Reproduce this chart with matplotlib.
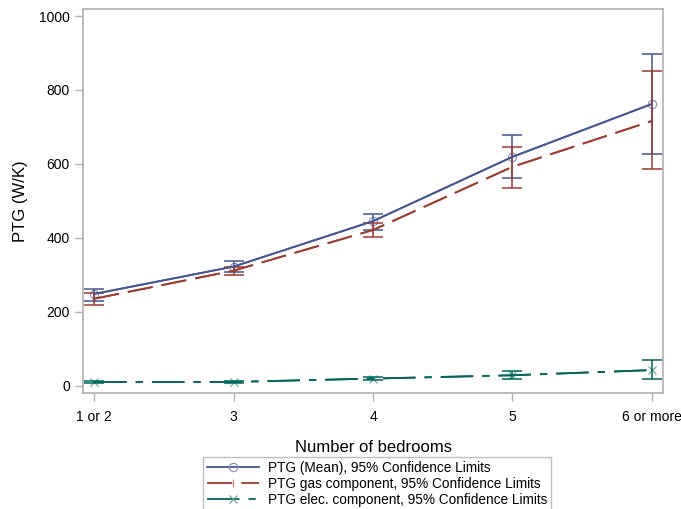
import matplotlib.pyplot as plt

categories = ['1 or 2', '3', '4', '5', '6 or more']

mean_ptg = [248, 322, 445, 619, 762]
mean_lo = [229, 308, 421, 562, 626]
mean_hi = [261, 337, 464, 678, 897]

gas_ptg = [235, 311, 421, 592, 716]
gas_lo = [217, 299, 402, 536, 585]
gas_hi = [251, 320, 439, 646, 851]

elec_ptg = [10, 10, 19, 28, 42]
elec_lo = [8, 8, 15, 19, 17]
elec_hi = [12, 12, 23, 40, 69]


def main():
    plt.rcParams['font.family'] = ['Liberation Sans', 'DejaVu Sans']

    fig = plt.figure(figsize=(6.81, 5.09), dpi=100)
    ax = fig.add_axes([0.1219, 0.2279, 0.8517, 0.7544])

    x = list(range(len(categories)))
    series = [
        ('PTG (Mean), 95% Confidence Limits', mean_ptg, mean_lo, mean_hi,
         '#445694', '#7f8bc0', 'o', '-'),
        ('PTG gas component, 95% Confidence Limits', gas_ptg, gas_lo, gas_hi,
         '#A23A2E', '#cd7d74', '|', (0, (14, 5))),
        ('PTG elec. component, 95% Confidence Limits', elec_ptg, elec_lo, elec_hi,
         '#01665E', '#5fa39d', 'x', (0, (18, 5, 4, 5))),
    ]

    handles = []
    for label, y, lo, hi, col, light, mk, ls in series:
        err = [[v - l for v, l in zip(y, lo)], [h - v for v, h in zip(y, hi)]]
        ax.errorbar(x, y, yerr=err, fmt='none', ecolor=col, elinewidth=1.3,
                    capsize=7, capthick=1.3, alpha=0.85, zorder=2)
        ax.plot(x, y, color=col, linestyle=ls, linewidth=1.3, zorder=3)
        h, = ax.plot(x, y, color=col, linestyle=ls, linewidth=1.3,
                     marker=mk, markersize=6, markerfacecolor='none',
                     markeredgecolor=light, markeredgewidth=0.8, zorder=1)
        handles.append((h, label))

    ax.set_xlim(-0.08, 4.08)
    ax.set_ylim(-20, 1019)
    ax.set_xticks(x)
    ax.set_xticklabels(categories)
    ax.set_yticks([0, 200, 400, 600, 800, 1000])

    for s in ax.spines.values():
        s.set_color('#b0b0b0')
        s.set_linewidth(1.2)
    ax.tick_params(colors='#b0b0b0', labelcolor='black', labelsize=10,
                   length=6, width=1)
    ax.tick_params(axis='x', pad=6)

    ax.set_xlabel('Number of bedrooms', fontsize=12, labelpad=12)
    ax.set_ylabel('PTG (W/K)', fontsize=12, labelpad=8)

    leg = fig.legend([h for h, _ in handles], [l for _, l in handles],
                     loc='upper center', bbox_to_anchor=(0.5536, 0.102),
                     fontsize=9.8, frameon=True, fancybox=False,
                     handlelength=3.8, borderpad=0.3, labelspacing=0.15,
                     handletextpad=0.65, borderaxespad=0)
    leg.get_frame().set_edgecolor('#b0b0b0')
    leg.get_frame().set_linewidth(1.0)

    fig.savefig('out.png', dpi=100)


if __name__ == '__main__':
    main()
